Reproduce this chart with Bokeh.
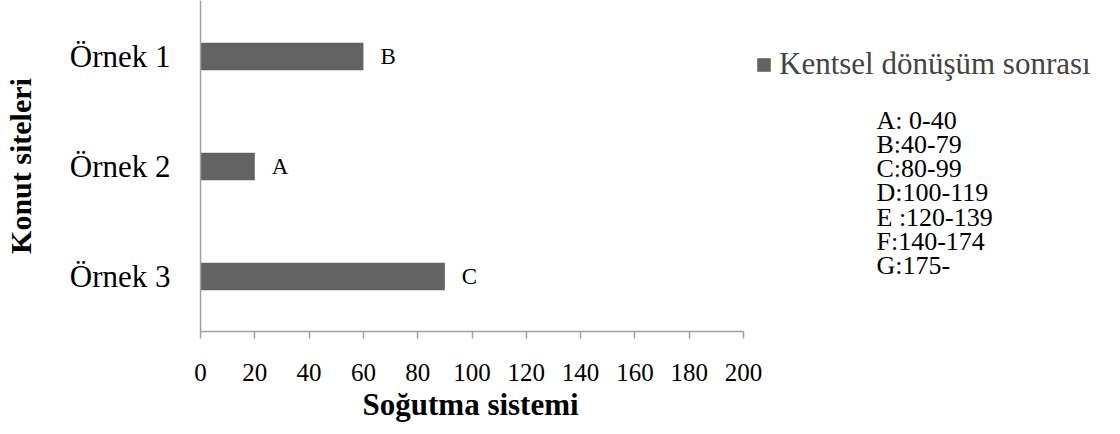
from bokeh.plotting import figure
from bokeh.models import Range1d, FixedTicker, Label, Legend, LegendItem, ColumnDataSource, Title
from bokeh.core.properties import value
from bokeh.embed import file_html
from bokeh.resources import INLINE

# ---- data ----
categories = ["Örnek 1", "Örnek 2", "Örnek 3"]
values = [60, 20, 90]
grades = ["B", "A", "C"]
x_ticks = [0, 20, 40, 60, 80, 100, 120, 140, 160, 180, 200]
series_name = "Kentsel dönüşüm sonrası"
grade_ranges = ["A: 0-40", "B:40-79", "C:80-99", "D:100-119", "E :120-139", "F:140-174", "G:175-"]
x_title = "Soğutma sistemi"
y_title = "Konut siteleri"

# ---- layout ----
FONT = "Liberation Serif"
W, H = 1120, 434
LEFT = 200
FRAME_H = 331
FRAME_W = W - LEFT
X_MAX = 200
PX_PER_X = 543 / X_MAX
X_END = FRAME_W / PX_PER_X
BAND = 110
Y_END = FRAME_H / BAND


def xdata(px):
    return (px - LEFT) / PX_PER_X


def ydata(py):
    return (FRAME_H - py) / BAND


n = len(categories)
ypos = [n - i - 0.5 for i in range(n)]

src = ColumnDataSource(dict(y=ypos, v=values, g=grades, c=categories))

p = figure(width=W, height=H, output_backend="svg", toolbar_location=None,
           x_range=Range1d(0, X_END), y_range=Range1d(0, Y_END),
           min_border_left=LEFT, min_border_right=0, min_border_top=0,
           min_border_bottom=H - FRAME_H)
p.outline_line_color = None
p.xgrid.visible = False
p.ygrid.visible = False
p.background_fill_color = "white"

bars = p.hbar(y="y", left=0, right="v", height=0.25, source=src,
              fill_color="#636363", line_color=None)
p.text(x="v", y="y", text="g", source=src, x_offset=17, text_baseline="middle",
       text_align="left", text_font=value(FONT), text_font_size="23px", text_color="black")

AX = "#a0a0a0"
xa = p.xaxis[0]
xa.ticker = FixedTicker(ticks=x_ticks)
xa.bounds = (0, X_MAX)
xa.axis_line_color = AX
xa.axis_line_width = 1.5
xa.major_tick_line_color = AX
xa.major_tick_line_width = 1.5
xa.major_tick_out = 7
xa.major_tick_in = 0
xa.minor_tick_out = 0
xa.minor_tick_in = 0
xa.major_label_text_font = FONT
xa.major_label_text_font_size = "25px"
xa.major_label_text_color = "black"
xa.major_label_standoff = 25

ya = p.yaxis[0]
ya.ticker = FixedTicker(ticks=ypos)
ya.major_label_overrides = {y: c for y, c in zip(ypos, categories)}
ya.axis_line_color = AX
ya.axis_line_width = 1.5
ya.major_tick_out = 0
ya.major_tick_in = 0
ya.minor_tick_out = 0
ya.minor_tick_in = 0
ya.major_label_text_font = FONT
ya.major_label_text_font_size = "31px"
ya.major_label_text_color = "black"
ya.major_label_standoff = 30
ya.axis_label = y_title
ya.axis_label_text_font = FONT
ya.axis_label_text_font_style = "bold"
ya.axis_label_text_font_size = "30px"
ya.axis_label_text_color = "black"
ya.axis_label_standoff = 30

# x-axis title, under the 0-200 part of the axis
p.add_layout(Title(text=x_title, align="left", offset=162, standoff=3,
                   text_font=FONT, text_font_size="31px", text_font_style="bold",
                   text_color="black"), "below")

legend = Legend(items=[LegendItem(label=series_name, renderers=[bars])],
                location=(555, 249), padding=0, margin=0, spacing=0,
                glyph_width=17, glyph_height=17, label_standoff=7,
                label_text_font=FONT, label_text_font_size="31px",
                border_line_color=None, background_fill_alpha=0)
p.add_layout(legend, "center")

# range explanation texts
for i, t in enumerate(grade_ranges):
    cy = 121.7 + 24.2 * i
    p.add_layout(Label(x=xdata(876), y=ydata(cy - 2), text=t, text_font=FONT,
                       text_font_size="26px", text_baseline="middle", text_align="left",
                       text_color="black"))

open("out.html", "w").write(file_html(p, INLINE))
